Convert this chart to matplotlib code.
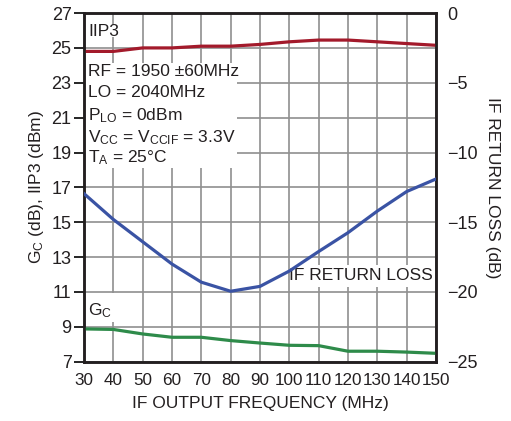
import matplotlib
matplotlib.use("Agg")
import matplotlib.pyplot as plt
from matplotlib.patches import Rectangle

plt.rcParams['font.family'] = ['Liberation Sans', 'DejaVu Sans']
plt.rcParams['mathtext.fontset'] = 'custom'
plt.rcParams['mathtext.rm'] = 'Liberation Sans'
plt.rcParams['mathtext.it'] = 'Liberation Sans'

# data
freq = [30, 40, 50, 60, 70, 80, 90, 100, 110, 120, 130, 140, 150]
iip3 = [24.8, 24.8, 25.0, 25.0, 25.1, 25.1, 25.2, 25.35, 25.45, 25.45, 25.35, 25.25, 25.15]
gain = [8.88, 8.85, 8.59, 8.4, 8.4, 8.21, 8.07, 7.94, 7.92, 7.6, 7.6, 7.55, 7.48]
ret_loss = [-12.95, -14.8, -16.4, -18.0, -19.3, -19.95, -19.6, -18.5, -17.1, -15.75, -14.2, -12.8, -11.9]

left_ticks = [7, 9, 11, 13, 15, 17, 19, 21, 23, 25, 27]
right_ticks = [-25, -20, -15, -10, -5, 0]
right_labels = ['\u221225', '\u221220', '\u221215', '\u221210', '\u22125', '0']

red = '#a31a2b'
blue = '#3a53a4'
green = '#2e8b4a'
gridc = '#8f8f8f'
txt = '#231f20'

fig = plt.figure(figsize=(5.11, 4.21), dpi=100)
ax = fig.add_axes([0.1644, 0.1409, 0.6888, 0.8281])
ax2 = ax.twinx()

ax.set_xlim(30, 150)
ax.set_ylim(7, 27)
ax.set_xticks(freq)
ax.set_yticks(left_ticks)
ax2.set_yticks(right_ticks)
ax2.set_yticklabels(right_labels)

ax.grid(True, color=gridc, linewidth=1.2)
ax.set_axisbelow(True)

ax.tick_params(axis='x', length=0, labelsize=12.3, pad=8, labelcolor=txt)
ax.tick_params(axis='y', length=7, width=1.2, labelsize=13, pad=2, labelcolor=txt)
ax2.tick_params(axis='y', length=0, labelsize=13, pad=8, labelcolor=txt)
for a in (ax, ax2):
    for s in a.spines.values():
        s.set_linewidth(1.8)
        s.set_color(txt)

# white boxes behind the labels (gridlines hidden there)
box = dict(facecolor='white', edgecolor='none', zorder=1.5)
ax.add_patch(Rectangle((30.3, 25.6), 12.2, 0.7, **box))
ax.add_patch(Rectangle((30.3, 18.1), 51.8, 6.03, **box))
ax.add_patch(Rectangle((30.3, 9.3), 10.5, 1.65, **box))
ax.add_patch(Rectangle((101.9, 11.28), 47.7, 1.27, **box))

ax.plot(freq, iip3, color=red, linewidth=2.3, zorder=3)
ax.plot(freq, gain, color=green, linewidth=2.3, zorder=3)
ax2.plot(freq, ret_loss, color=blue, linewidth=2.3, zorder=3)
ax2.set_ylim(-25, 0)

fs = 12.5
ax.text(31.5, 25.94, 'IIP3', fontsize=fs, va='center', zorder=4, color=txt)
cond = ['RF = 1950 \u00b160MHz', 'LO = 2040MHz', r'P$_{\mathrm{LO}}$ = 0dBm',
        r'V$_{\mathrm{CC}}$ = V$_{\mathrm{CCIF}}$ = 3.3V', 'T$_{\\mathrm{A}}$ = 25\u00b0C']
ys = [23.73, 22.52, 21.26, 20.0, 18.85]
for t, y in zip(cond, ys):
    ax.text(31.5, y, t, fontsize=fs, va='center_baseline', zorder=4, color=txt)
ax.text(31.5, 10.07, r'G$_{\mathrm{C}}$', fontsize=fs, va='center_baseline', zorder=4, color=txt)
ax.text(148.8, 11.94, 'IF RETURN LOSS', fontsize=fs, va='center', ha='right', zorder=4, color=txt)

ax.set_xlabel('IF OUTPUT FREQUENCY (MHz)', fontsize=12.5, labelpad=6, color=txt)
ax.set_ylabel(r'G$_{\mathrm{C}}$ (dB), IIP3 (dBm)', fontsize=12.5, labelpad=4, color=txt)
ax2.set_ylabel('IF RETURN LOSS (dB)', fontsize=12.5, rotation=270, labelpad=16, color=txt)

ax2.set_zorder(ax.get_zorder() + 1)
ax2.patch.set_visible(False)

fig.savefig('out.png', dpi=100)
